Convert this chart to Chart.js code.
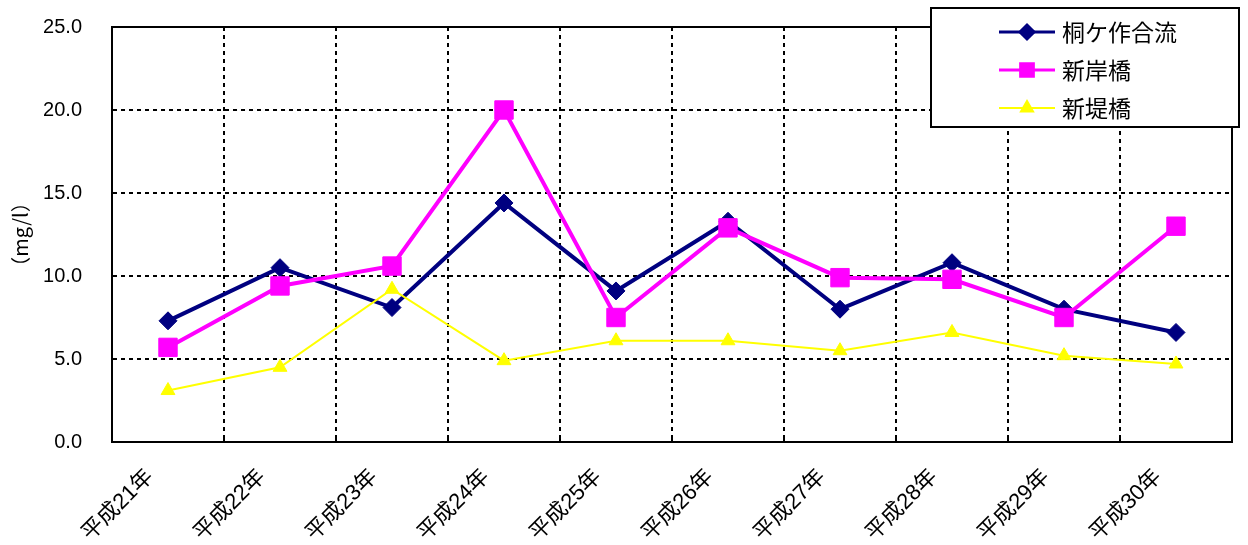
<!DOCTYPE html>
<html>
<head>
<meta charset="utf-8">
<script src="https://cdn.jsdelivr.net/npm/chart.js@4/dist/chart.umd.min.js"></script>
<style>
  body { margin: 0; background: #fff; }
  #wrap { width: 1248px; height: 545px; }
</style>
</head>
<body>
<div id="wrap"><canvas id="waterChart" width="1248" height="545"></canvas></div>
<script>
// 年度ラベル
const years = ["平成21年", "平成22年", "平成23年", "平成24年", "平成25年",
               "平成26年", "平成27年", "平成28年", "平成29年", "平成30年"];

// 各地点の値 (mg/l)
const kirigasakuValues = [7.3, 10.5, 8.1, 14.4, 9.1, 13.3, 8.0, 10.8, 8.0, 6.6];
const shinkishiValues = [5.7, 9.4, 10.6, 20.0, 7.5, 12.9, 9.9, 9.8, 7.5, 13.0];
const shintsutsumiValues = [3.1, 4.5, 9.2, 4.9, 6.1, 6.1, 5.5, 6.6, 5.2, 4.7];

const yTicks = [0, 5, 10, 15, 20, 25];

const JP_FONT = "'Liberation Sans', 'Noto Sans CJK JP', sans-serif";

// プロット枠と内向きの目盛り
const framePlugin = {
    id: "frame",
    afterDatasetsDraw(chart) {
        const { ctx, chartArea: a } = chart;
        const xs = chart.scales.x;
        ctx.save();
        ctx.strokeStyle = "#000";
        ctx.lineWidth = 2;
        ctx.strokeRect(a.left, a.top, a.right - a.left, a.bottom - a.top);
        ctx.beginPath();
        for (let i = 1; i < years.length; i++) {
            const gx = Math.round((xs.getPixelForTick(i - 1) + xs.getPixelForTick(i)) / 2);
            ctx.moveTo(gx, a.bottom);
            ctx.lineTo(gx, a.bottom - 5);
        }
        ctx.stroke();
        ctx.restore();
    }
};

// 凡例 (線＋マーカー)
const legendPlugin = {
    id: "boxLegend",
    afterDraw(chart) {
        const { ctx } = chart;
        const box = { x: 931, y: 8, w: 308, h: 119 };
        ctx.save();
        ctx.fillStyle = "#fff";
        ctx.fillRect(box.x, box.y, box.w, box.h);
        ctx.strokeStyle = "#000";
        ctx.lineWidth = 2;
        ctx.strokeRect(box.x, box.y, box.w, box.h);

        const rows = [32, 70, 108];
        const marks = [
            { style: "rectRot", radius: 7 },
            { style: "rect", radius: 9 },
            { style: "triangle", radius: 7 }
        ];
        chart.data.datasets.forEach((ds, i) => {
            const y = rows[i];
            ctx.strokeStyle = ds.borderColor;
            ctx.lineWidth = i === 2 ? 2 : 3;
            ctx.beginPath();
            ctx.moveTo(999, y);
            ctx.lineTo(1055, y);
            ctx.stroke();
            ctx.fillStyle = ds.pointBackgroundColor;
            ctx.strokeStyle = ds.pointBorderColor;
            Chart.helpers.drawPoint(ctx, {
                pointStyle: marks[i].style,
                radius: marks[i].radius,
                rotation: 0,
                borderWidth: 1
            }, 1027, y);
            ctx.fillStyle = "#000";
            ctx.font = "23px 'Noto Sans CJK JP', sans-serif";
            ctx.textBaseline = "middle";
            ctx.textAlign = "left";
            ctx.fillText(ds.label, 1062, y);
        });
        ctx.restore();
    }
};

function createChart() {
    const ctx = document.getElementById("waterChart").getContext("2d");
    return new Chart(ctx, {
        type: "line",
        data: {
            labels: years,
            datasets: [
                {
                    label: "桐ケ作合流",
                    data: kirigasakuValues,
                    borderColor: "#000080",
                    borderWidth: 4,
                    pointStyle: "rectRot",
                    pointRadius: 9,
                    pointBackgroundColor: "#000080",
                    pointBorderColor: "#000080",
                    pointBorderWidth: 1,
                    order: 3
                },
                {
                    label: "新岸橋",
                    data: shinkishiValues,
                    borderColor: "#ff00ff",
                    borderWidth: 4,
                    pointStyle: "rect",
                    pointRadius: 13,
                    pointBackgroundColor: "#ff00ff",
                    pointBorderColor: "#ff00ff",
                    pointBorderWidth: 1,
                    order: 2
                },
                {
                    label: "新堤橋",
                    data: shintsutsumiValues,
                    borderColor: "#ffff00",
                    borderWidth: 2,
                    pointStyle: "triangle",
                    pointRadius: 8,
                    pointBackgroundColor: "#ffff00",
                    pointBorderColor: "#ffff00",
                    pointBorderWidth: 1,
                    order: 1
                }
            ]
        },
        options: {
            responsive: false,
            animation: false,
            devicePixelRatio: 1,
            layout: { padding: { top: 27, right: 16, left: 0, bottom: 0 } },
            plugins: {
                legend: { display: false },
                tooltip: { enabled: false }
            },
            elements: { line: { tension: 0 } },
            scales: {
                x: {
                    offset: true,
                    grid: { offset: true, color: "#000", lineWidth: 2, drawTicks: false },
                    border: { display: true, color: "#000", width: 2, dash: [4, 4] },
                    ticks: {
                        color: "#000",
                        font: { family: JP_FONT, size: 22 },
                        maxRotation: 45,
                        minRotation: 45,
                        autoSkip: false,
                        labelOffset: -18,
                        padding: 22
                    },
                    afterFit: (s) => {
                        s.height = 103;
                        s.paddingLeft = 0;
                        s.paddingRight = 0;
                    }
                },
                y: {
                    min: 0,
                    max: 25,
                    afterBuildTicks: (s) => { s.ticks = yTicks.map(v => ({ value: v })); },
                    grid: { color: "#000", lineWidth: 2, drawTicks: false },
                    border: { display: true, color: "#000", width: 2, dash: [4, 4] },
                    ticks: {
                        color: "#000",
                        font: { family: "'Liberation Sans', sans-serif", size: 20 },
                        padding: 30,
                        callback: (v) => Number(v).toFixed(1)
                    },
                    title: {
                        display: true,
                        text: "（mg/l）",
                        color: "#000",
                        font: { family: "'Noto Sans CJK JP', sans-serif", size: 20 },
                        padding: { top: 8, bottom: 0 }
                    },
                    afterFit: (s) => {
                        s.width = 112;
                        s.paddingTop = 0;
                        s.paddingBottom = 0;
                    }
                }
            }
        },
        plugins: [framePlugin, legendPlugin]
    });
}

document.addEventListener("DOMContentLoaded", () => {
    createChart();
});
</script>
</body>
</html>
